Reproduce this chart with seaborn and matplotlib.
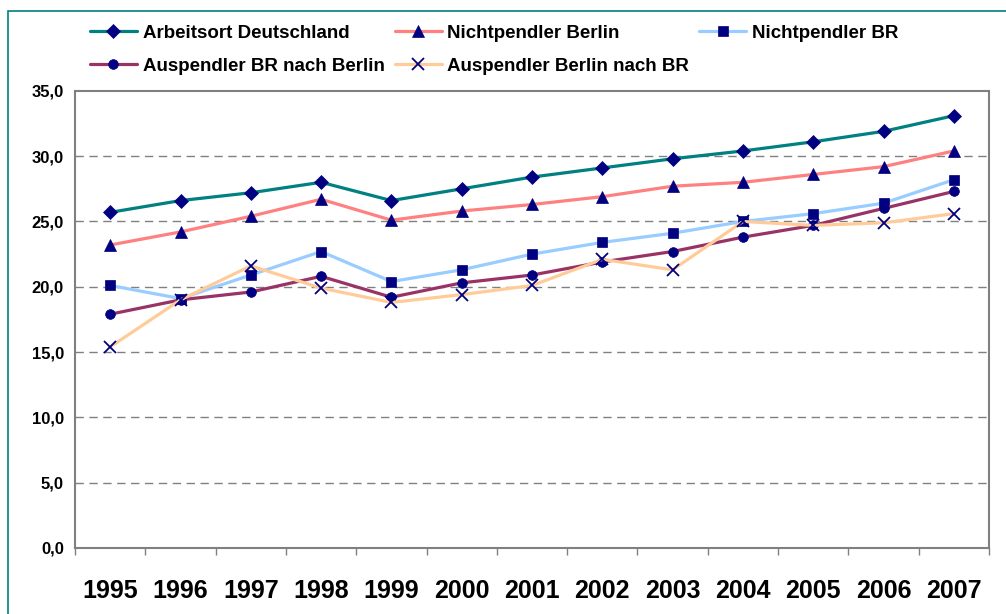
import matplotlib
matplotlib.use("Agg")
import matplotlib.pyplot as plt
import seaborn as sns
import numpy as np
from matplotlib.patches import Rectangle
from matplotlib.ticker import FixedLocator, FuncFormatter

# Data
years = [1995, 1996, 1997, 1998, 1999, 2000, 2001, 2002, 2003, 2004, 2005, 2006, 2007]
arbeitsort_de = [25.7, 26.6, 27.2, 28.0, 26.6, 27.5, 28.4, 29.1, 29.8, 30.4, 31.1, 31.9, 33.1]
nichtpendler_berlin = [23.2, 24.2, 25.4, 26.7, 25.1, 25.8, 26.3, 26.9, 27.7, 28.0, 28.6, 29.2, 30.4]
nichtpendler_br = [20.1, 19.1, 20.9, 22.7, 20.4, 21.3, 22.5, 23.4, 24.1, 25.0, 25.6, 26.4, 28.2]
auspendler_br_berlin = [17.9, 19.0, 19.6, 20.8, 19.2, 20.3, 20.9, 21.9, 22.7, 23.8, 24.7, 26.0, 27.3]
auspendler_berlin_br = [15.4, 19.0, 21.6, 19.9, 18.8, 19.4, 20.1, 22.1, 21.3, 25.0, 24.7, 24.9, 25.6]

labels = ["Arbeitsort Deutschland", "Nichtpendler Berlin", "Nichtpendler BR",
          "Auspendler BR nach Berlin", "Auspendler Berlin nach BR"]
series = [arbeitsort_de, nichtpendler_berlin, nichtpendler_br,
          auspendler_br_berlin, auspendler_berlin_br]
colors = ["#008080", "#FF8080", "#99CCFF", "#993366", "#FFCC99"]
markers = ["D", "^", "s", "o", "x"]
msizes = [7, 8, 7, 7, 8]

sns.set_theme(style="white")
plt.rcParams["font.family"] = ["Liberation Sans", "DejaVu Sans"]
plt.rcParams["font.weight"] = "bold"
plt.rcParams["text.color"] = "black"

fig = plt.figure(figsize=(10.06, 6.14), dpi=100)
ax = fig.add_axes([0.0746, 0.1075, 0.9085, 0.7445])

navy = "#000080"
handles = []
for vals, lab, col, mk, ms in zip(series, labels, colors, markers, msizes):
    sns.lineplot(x=years, y=vals, ax=ax, color=col, linewidth=2.3, marker=mk,
                 markersize=ms, markerfacecolor=navy, markeredgecolor=navy,
                 markeredgewidth=1.3 if mk == "x" else 0.5, label=lab, legend=False)
    handles.append(ax.lines[-1])

ax.set_xlim(1994.5, 2007.5)
ax.set_ylim(0, 35)
ax.set_xlabel("")
ax.set_ylabel("")

# y axis
ax.yaxis.set_major_locator(FixedLocator(np.arange(0, 36, 5)))
ax.yaxis.set_major_formatter(FuncFormatter(lambda v, p: f"{v:.1f}".replace(".", ",")))
ax.tick_params(axis="y", which="major", direction="out", length=5, width=1,
               color="#808080", labelcolor="black", labelsize=12, pad=3)
for t in ax.get_yticklabels():
    t.set_fontweight("bold")

# x axis: labels at categories, tick marks between categories
ax.xaxis.set_major_locator(FixedLocator(years))
ax.xaxis.set_major_formatter(FuncFormatter(lambda v, p: f"{int(round(v))}"))
ax.xaxis.set_minor_locator(FixedLocator(np.arange(1994.5, 2008, 1)))
ax.tick_params(axis="x", which="major", length=0, labelsize=18, pad=22,
               labelcolor="black")
ax.tick_params(axis="x", which="minor", direction="out", length=5, width=1,
               color="#808080", bottom=True)
for t in ax.get_xticklabels():
    t.set_fontweight("bold")

# grid
for yv in range(5, 35, 5):
    ax.axhline(yv, color="#808080", linewidth=1, linestyle=(0, (6, 4)), zorder=0)

for sp in ax.spines.values():
    sp.set_color("#808080")
    sp.set_linewidth(1.5)
    sp.set_visible(True)

# legend: 3 columns, filled column-wise
order = [0, 3, 1, 4, 2]
leg = fig.legend([handles[i] for i in order], [labels[i] for i in order],
                 loc="upper left", bbox_to_anchor=(0.0895, 0.960), ncol=3,
                 frameon=False, fontsize=13.5, handlelength=2.5, handletextpad=0.3,
                 columnspacing=0.55, labelspacing=0.85, borderpad=0,
                 borderaxespad=0)
for t in leg.get_texts():
    t.set_fontweight("bold")
    t.set_color("black")

# outer teal frame
fig.patches.append(Rectangle((0.008, -0.05), 1.1, 1.032, transform=fig.transFigure,
                             fill=False, edgecolor="#008080", linewidth=1.2))

fig.savefig("out.png", dpi=100)
